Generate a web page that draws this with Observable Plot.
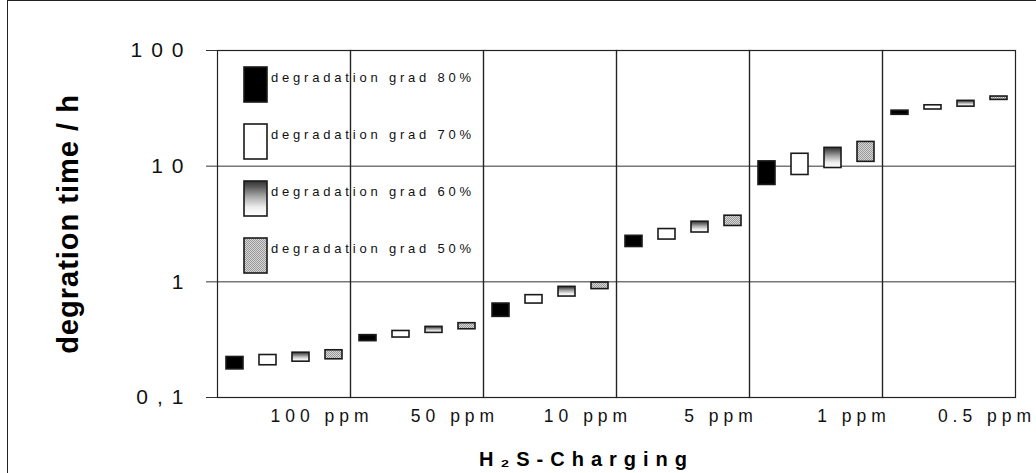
<!DOCTYPE html>
<html><head><meta charset="utf-8">
<script src="https://cdn.jsdelivr.net/npm/d3@7"></script>
<script src="https://cdn.jsdelivr.net/npm/@observablehq/plot@0.6"></script>
<style>
body{margin:0;background:#fff;}
#wrap{position:relative;width:1036px;height:473px;overflow:hidden;background:#fff;font-family:"Liberation Sans",Arial,sans-serif;}
#border{position:absolute;left:7px;top:0px;width:1200px;height:700px;border-left:1px solid #222;border-top:1px solid #222;pointer-events:none;}
#chart svg{display:block;}
#chart [aria-label="y-axis tick label"] text{font-size:21px;letter-spacing:9px;fill:#111;}
#chart [aria-label="y-axis label"] text{font-size:29px;font-weight:bold;letter-spacing:1px;fill:#000;}
#chart [aria-label="fx-axis tick label"] text{font-size:17.5px;letter-spacing:5px;fill:#111;}
#chart [aria-label="fx-axis label"] text{font-size:20px;font-weight:bold;letter-spacing:7px;fill:#000;}
#legend{position:absolute;left:0;top:0;pointer-events:none;}
#legend text{font-size:13px;letter-spacing:3.8px;fill:#111;}
</style></head>
<body><div id="wrap"><div id="chart"></div><svg id="legend" width="1036" height="473"></svg><div id="border"></div></div>
<script>
// ---- data ----
const concentrations = ["100 ppm", "50 ppm", "10 ppm", "5 ppm", "1 ppm", "0.5 ppm"];
const grades = ["degradation grad 80%", "degradation grad 70%", "degradation grad 60%", "degradation grad 50%"];
const low80  = [0.175, 0.307, 0.498, 2.00, 6.88, 27.8];
const high80 = [0.224, 0.346, 0.649, 2.50, 11.0, 30.2];
const low70  = [0.190, 0.330, 0.649, 2.32, 8.39, 30.9];
const high70 = [0.233, 0.376, 0.767, 2.86, 12.8, 33.6];
const low60  = [0.204, 0.362, 0.746, 2.67, 9.64, 32.7];
const high60 = [0.244, 0.408, 0.905, 3.31, 14.4, 36.7];
const low50  = [0.214, 0.389, 0.865, 3.04, 10.9, 37.4];
const high50 = [0.256, 0.439, 0.986, 3.73, 16.2, 40.0];
const yTicks = [0.1, 1, 10, 100];
const yTickLabels = ["0,1", "1", "10", "100"];
const gridValues = [1, 10];
const yTitle = "degration time / h";
const xTitle = "H\u2082S-Charging";

// ---- styles ----
const gradeFills = ["#000000", "#ffffff", "url(#grad60)", "url(#pat50)"];

const lows = [low80, low70, low60, low50];
const highs = [high80, high70, high60, high50];
const rows = [];
concentrations.forEach((c, i) => grades.forEach((g, j) => rows.push({conc: c, grade: g, lo: lows[j][i], hi: highs[j][i]})));

const chart = Plot.plot({
  width: 1036, height: 473,
  marginLeft: 217, marginRight: 21, marginTop: 50, marginBottom: 76,
  style: {fontFamily: '"Liberation Sans", Arial, sans-serif', background: "transparent", color: "#111"},
  fx: {domain: concentrations, padding: 0, axis: null},
  x: {domain: grades, paddingInner: 0.5, paddingOuter: 0.25, axis: null},
  y: {type: "log", domain: [0.1, 100], axis: null},
  color: {type: "ordinal", domain: grades, range: gradeFills},
  marks: [
    Plot.gridY(gridValues, {stroke: "#333", strokeOpacity: 1, strokeWidth: 1}),
    Plot.frame({stroke: "#222", strokeWidth: 1.2}),
    Plot.barY(rows, {fx: "conc", x: "grade", y1: "lo", y2: "hi", fill: "grade", stroke: "#1a1a1a", strokeWidth: 1.6}),
    Plot.axisY(yTicks, {tickFormat: d => yTickLabels[yTicks.indexOf(d)], tickSize: 11, tickPadding: 14, stroke: "#333",
      label: yTitle, labelAnchor: "center", labelOffset: 160}),
    Plot.axisFx({anchor: "bottom", tickSize: 0, tickPadding: 12, dx: 38, label: null}),
    Plot.axisFx({anchor: "bottom", tickSize: 0, tickFormat: () => "", label: xTitle, labelAnchor: "center", labelOffset: 71})
  ]
});
document.getElementById("chart").appendChild(chart);

const svg = d3.select(chart.tagName.toLowerCase() === "svg" ? chart : chart.querySelector("svg"));
// plain axis titles (no scale arrow), x title shifted left like the reference
svg.select('[aria-label="y-axis label"] text').text(yTitle);
const xl = svg.select('[aria-label="fx-axis label"]');
xl.attr("transform", ((xl.attr("transform") || "") + " translate(-30,-3)").trim());

// gradient + pattern defs
const defs = svg.insert("defs", ":first-child");
const lg = defs.append("linearGradient").attr("id", "grad60").attr("x1", 0).attr("y1", 0).attr("x2", 0).attr("y2", 1);
[[0, "#333"], [0.15, "#555"], [0.45, "#aaa"], [0.75, "#eee"], [1, "#fff"]].forEach(([o, c]) =>
  lg.append("stop").attr("offset", o).attr("stop-color", c));
const pat = defs.append("pattern").attr("id", "pat50").attr("patternUnits", "userSpaceOnUse").attr("width", 2).attr("height", 2);
pat.append("rect").attr("width", 2).attr("height", 2).attr("fill", "#d6d6d6");
pat.append("rect").attr("width", 1).attr("height", 1).attr("fill", "#999");
pat.append("rect").attr("x", 1).attr("y", 1).attr("width", 1).attr("height", 1).attr("fill", "#999");

// legend (inside plot area, top-left)
const leg = d3.select("#legend");
const legX = 244, legTop = 67, legStep = 57;
grades.forEach((g, i) => {
  const y0 = legTop + i * legStep;
  leg.append("rect").attr("x", legX).attr("y", y0).attr("width", 23).attr("height", 35)
    .attr("fill", gradeFills[i]).attr("stroke", "#1a1a1a").attr("stroke-width", 1.6);
  leg.append("text").attr("x", legX + 27).attr("y", y0 + 15).text(g);
});
</script>
</body></html>
